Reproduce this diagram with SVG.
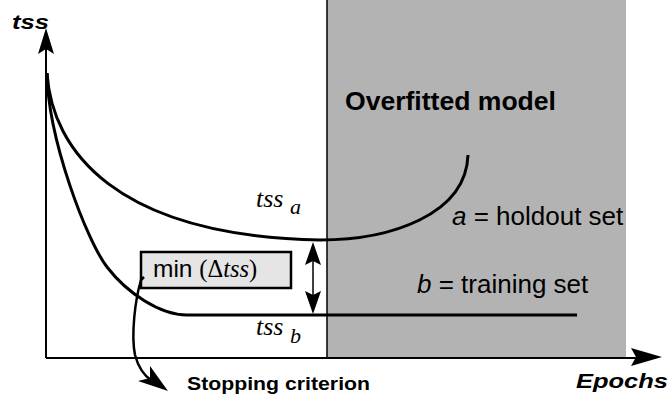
<svg xmlns="http://www.w3.org/2000/svg" width="672" height="403" viewBox="0 0 672 403">
<style>
.ax{stroke:#000;stroke-width:2;fill:none}
.cv{stroke:#000;stroke-width:3;fill:none}
.hd{fill:#000;stroke:none}
.sans{font-family:"Liberation Sans",Arial,sans-serif;fill:#000}
.ser{font-family:"Liberation Serif","Times New Roman",serif;font-style:italic;fill:#000}
.rom{font-family:"Liberation Serif","Times New Roman",serif;fill:#000}
</style>
<rect width="672" height="403" fill="#fff"/>
<g id="overfit-region">
<rect x="327" y="0" width="299" height="358" fill="#b3b3b3"/>
<line x1="327" y1="0" x2="327" y2="358" stroke="#000" stroke-width="1.5"/>
<text class="sans" x="345" y="110" font-size="25" font-weight="bold" textLength="211" lengthAdjust="spacingAndGlyphs">Overfitted model</text>
</g>
<g id="axes">
<line class="ax" x1="46" y1="358" x2="640" y2="358"/>
<polygon class="hd" points="662,357 631,348 636,357 631,366"/>
<line class="ax" x1="46" y1="358" x2="46" y2="45"/>
<polygon class="hd" points="46,28 54,54 46,49 38,54"/>
<text class="sans" x="12" y="29" font-size="21" font-weight="bold" font-style="italic" textLength="37" lengthAdjust="spacingAndGlyphs">tss</text>
<text class="sans" x="576" y="388" font-size="20" font-weight="bold" font-style="italic" textLength="92" lengthAdjust="spacingAndGlyphs">Epochs</text>
</g>
<g id="curve-a">
<path class="cv" d="M47,73 C52,150 115,236 320,240 C390,240 466,215 468,155"/>
<text class="ser" x="256" y="207" font-size="26">tss</text>
<text class="ser" x="290" y="214" font-size="22">a</text>
<text class="sans" x="452" y="225" font-size="26"><tspan font-style="italic">a</tspan> = holdout set</text>
</g>
<g id="curve-b">
<path class="cv" d="M47,73 C48,140 87,241 107,267 C127,293 160,315 187,315 L577,315"/>
<text class="ser" x="256" y="335" font-size="26">tss</text>
<text class="ser" x="290" y="343" font-size="22">b</text>
<text class="sans" x="417" y="293" font-size="26"><tspan font-style="italic">b</tspan> = training set</text>
</g>
<g id="min-box">
<rect x="141" y="252" width="150" height="36" fill="#e5e5e5" stroke="#000" stroke-width="2.5"/>
<text x="153" y="277" font-size="24.5"><tspan class="sans">min </tspan><tspan class="rom">(Δ</tspan><tspan class="ser">tss</tspan><tspan class="rom">)</tspan></text>
</g>
<g id="connectors">
<line x1="313" y1="258" x2="313" y2="298" stroke="#000" stroke-width="1.5"/>
<polygon class="hd" points="313,242 321,265 313,261 305,265"/>
<polygon class="hd" points="313,314 321,291 313,295 305,291"/>
<path d="M144,277 L141,280 C135,300 131,335 135,355 C139,370 146,377 152,381" stroke="#000" stroke-width="2.5" fill="none"/>
<polygon class="hd" points="168,391 138,381 150,378 150,366"/>
</g>
<g id="stopping-label">
<text class="sans" x="187" y="390" font-size="19" font-weight="bold" textLength="183" lengthAdjust="spacingAndGlyphs">Stopping criterion</text>
</g>
</svg>
